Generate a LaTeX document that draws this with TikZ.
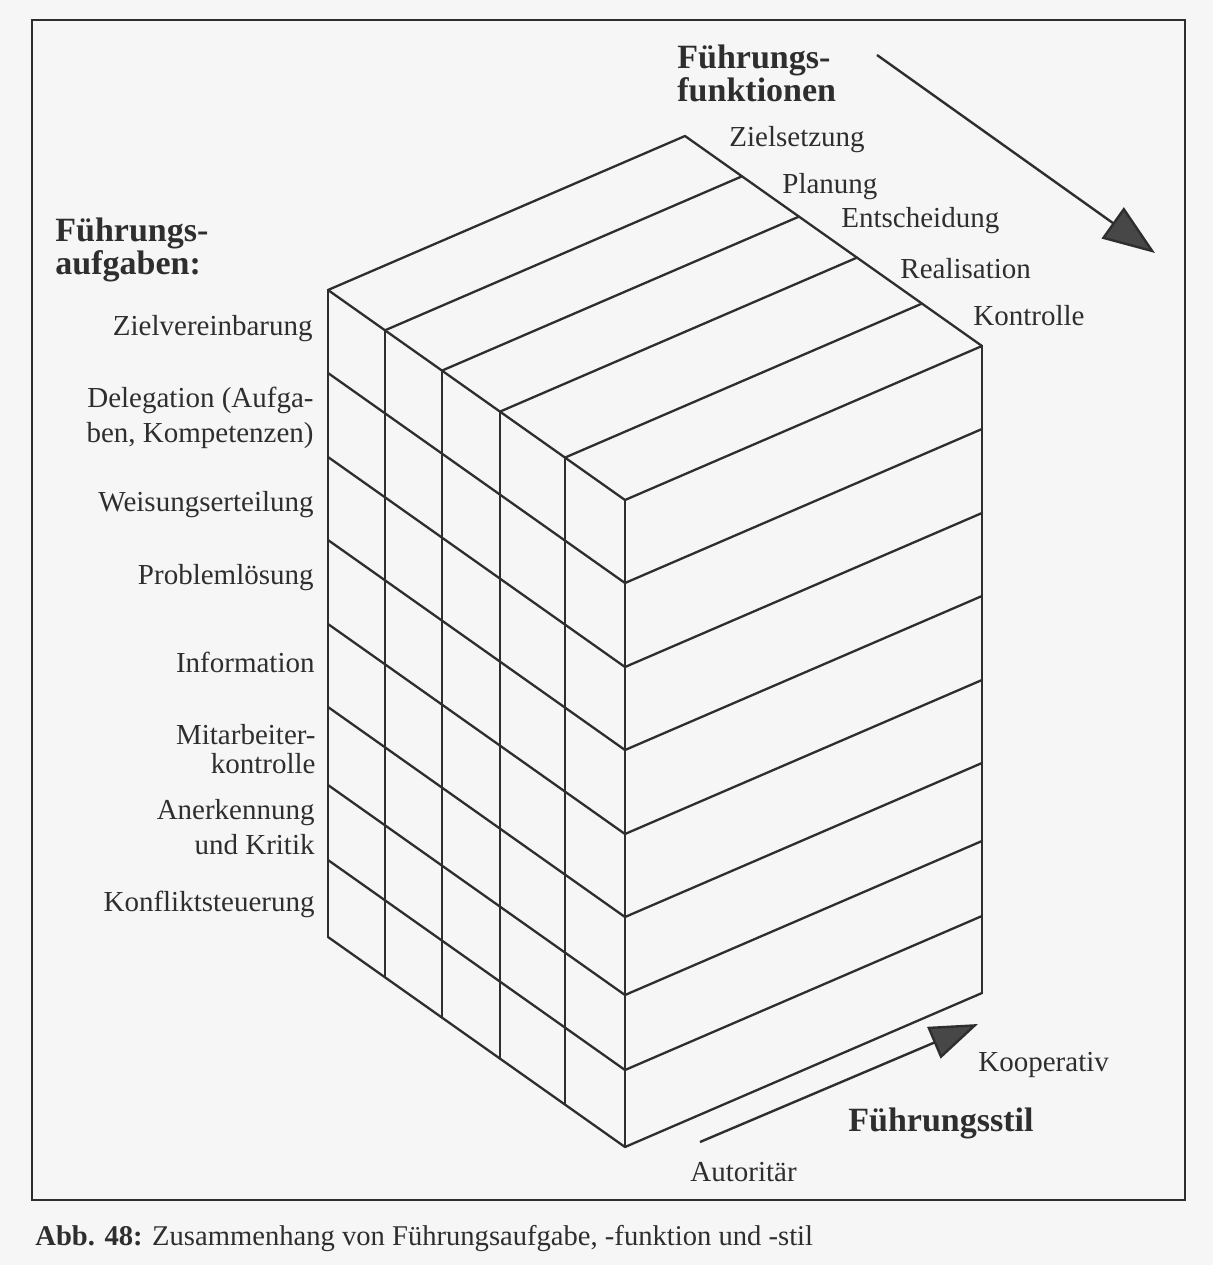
\documentclass[tikz,border=0pt]{standalone}
\usepackage{fontspec}
\setmainfont{Liberation Serif}
\usetikzlibrary{arrows.meta}
\definecolor{ink}{gray}{0.18}
\definecolor{paper}{gray}{0.965}
\definecolor{headfill}{gray}{0.28}
\begin{document}
\begin{tikzpicture}[x=0.5pt,y=-0.5pt,
  cubeline/.style={draw=ink, line width=1.15pt, line join=round, line cap=round},
  lbl/.style={text=ink, font=\fontsize{14.5pt}{17.5pt}\selectfont, inner sep=0pt},
  ttl/.style={text=ink, font=\fontsize{17pt}{16.5pt}\selectfont\bfseries, inner sep=0pt, align=left},
  bigarrow/.style={draw=ink, line width=1.2pt, -{Triangle[length=26pt,width=19pt,fill=headfill]}},
  framebox/.style={draw=ink, line width=1.4pt}]
\useasboundingbox (0,0) rectangle (1213,1265);
\fill[paper] (0,0) rectangle (1213,1265);
\draw[framebox] (32,20) rectangle (1185,1200);

% cube: rows across left and right faces
\foreach \y in {290,373,457,540,624,707,785,860,937} {
  \draw[cubeline] (328,\y) -- ++(297,210) -- ++(357,-154);
}
% top face outline
\draw[cubeline] (328,290) -- ++(357,-154) -- ++(297,210);
% column slices
\foreach \dx in {57,114,172,237} {
  \draw[cubeline] ({328+\dx},{290+0.70707*\dx}) -- ++(357,-154);
  \draw[cubeline] ({328+\dx},{290+0.70707*\dx}) -- ++(0,647);
}
\draw[cubeline] (328,290) -- (328,937);
\draw[cubeline] (625,500) -- (625,1147);
\draw[cubeline] (982,346) -- (982,993);

% arrows
\coordinate (fA) at (877,55);
\coordinate (fB) at (1155,253);
\draw[bigarrow] (fA) -- (fB);
\coordinate (sA) at (700,1142);
\coordinate (sB) at (978,1024);
\draw[bigarrow, -{Triangle[length=24pt,width=17pt,fill=headfill]}] (sA) -- (sB);

% titles
\node[ttl, anchor=west] (tfunk) at (677,73) {Führungs-\\funktionen};
\node[ttl, anchor=west] (tauf) at (55,250) {Führungs-\\aufgaben:};
\node[ttl, anchor=west] (tstil) at (848,1123) {Führungsstil};

% function labels
\node[lbl, anchor=west] (lz) at (729,140) {Zielsetzung};
\node[lbl, anchor=west] (lp) at (782,187) {Planung};
\node[lbl, anchor=west] (le) at (841,221) {Entscheidung};
\node[lbl, anchor=west] (lr) at (900,269) {Realisation};
\node[lbl, anchor=west] (lk) at (973,316) {Kontrolle};

% task labels
\node[lbl, anchor=east, align=right] (a1) at (313,329) {Zielvereinbarung};
\node[lbl, anchor=east, align=right] (a2) at (314,418) {Delegation (Aufga-\\ben, Kompetenzen)};
\node[lbl, anchor=east, align=right] (a3) at (314,505) {Weisungserteilung};
\node[lbl, anchor=east, align=right] (a4) at (314,578) {Problemlösung};
\node[lbl, anchor=east, align=right] (a5) at (315,662) {Information};
\node[lbl, anchor=east, align=right] (a6) at (316,749) {Mitarbeiter-\\[-3pt]kontrolle};
\node[lbl, anchor=east, align=right] (a7) at (315,827) {Anerkennung\\und Kritik};
\node[lbl, anchor=east, align=right] (a8) at (315,904) {Konfliktsteuerung};

% style labels
\node[lbl, anchor=west] (lkoop) at (978,1065) {Kooperativ};
\node[lbl, anchor=west] (laut) at (690,1172) {Autoritär};

% caption
\node[lbl, anchor=west, font=\fontsize{14.3pt}{17pt}\selectfont] (cap) at (35,1239) {\textbf{Abb. 48:} Zusammenhang von Führungsaufgabe, -funktion und -stil};
\end{tikzpicture}
\end{document}
